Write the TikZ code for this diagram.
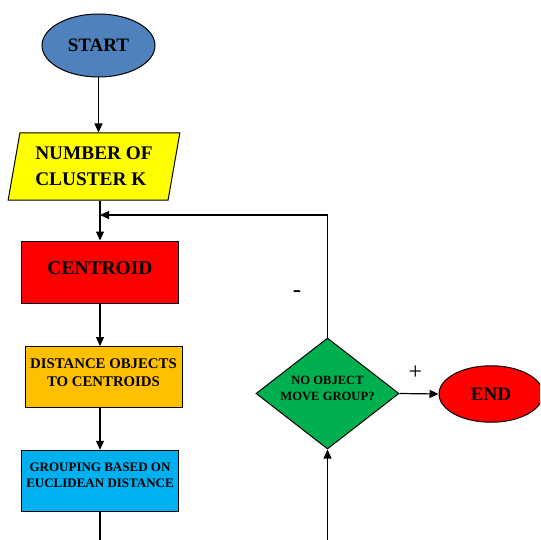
\documentclass[tikz,border=0pt]{standalone}
\usepackage{fontspec}
\setmainfont{Liberation Serif}
\usepackage{tikz}
\usetikzlibrary{shapes.geometric,arrows.meta}
\definecolor{startblue}{HTML}{4F81BD}
\definecolor{inputyellow}{HTML}{FFFF00}
\definecolor{centred}{HTML}{FF0000}
\definecolor{distorange}{HTML}{FFC000}
\definecolor{groupcyan}{HTML}{00B0F0}
\definecolor{decgreen}{HTML}{00B050}

\begin{document}
\begin{tikzpicture}[
    x=1pt, y=-1pt,
    >={Triangle[length=9pt, width=8pt]},
    box/.style={
        draw=black,
        line width=1pt,
        rectangle,
        inner sep=0pt,
        align=center
    },
    link/.style={line width=1.2pt, black}
]

    \useasboundingbox (0,0) rectangle (540,540);
    \clip (0,0) rectangle (540,540);

    % Inici
    \node[
        draw=black, line width=1pt,
        ellipse, fill=startblue,
        minimum width=113pt, minimum height=63pt, inner sep=0pt,
        font=\bfseries\fontsize{19}{22}\selectfont
    ] (start) at (98.5,45.5) {START};

    % Dades
    \node[
        draw=black, line width=1pt,
        trapezium, trapezium left angle=76.6, trapezium right angle=103.4,
        trapezium stretches=true,
        fill=inputyellow,
        minimum width=172pt, minimum height=67pt, inner sep=0pt,
        align=left,
        font=\bfseries\fontsize{19.3}{26}\selectfont
    ] (numk) at (94,166.5) {NUMBER OF\\CLUSTER K};

    % Passos
    \node[
        box, fill=centred,
        minimum width=157pt, minimum height=62pt,
        text depth=8pt,
        font=\bfseries\fontsize{19.5}{22}\selectfont
    ] (cent) at (100,272) {CENTROID};

    \node[
        box, fill=distorange,
        minimum width=157pt, minimum height=61pt,
        text depth=9pt,
        font=\bfseries\fontsize{14.8}{18.7}\selectfont
    ] (dist) at (103.5,377) {DISTANCE OBJECTS\\TO CENTROIDS};

    \node[
        box, fill=groupcyan,
        minimum width=156.5pt, minimum height=61.5pt,
        text depth=12pt,
        font=\bfseries\fontsize{13}{16}\selectfont
    ] (group) at (100,481) {GROUPING BASED ON\\EUCLIDEAN DISTANCE};

    % Decisio
    \node[
        draw=black, line width=1pt,
        diamond, aspect=1.29, fill=decgreen,
        minimum width=143pt, minimum height=111pt, inner sep=0pt,
        align=center, text depth=10pt,
        font=\bfseries\fontsize{12.6}{15.7}\selectfont
    ] (dec) at (327.5,393.5) {NO OBJECT\\MOVE GROUP?};

    % Final
    \node[
        draw=black, line width=1pt,
        ellipse, fill=centred,
        minimum width=104pt, minimum height=56.5pt, inner sep=0pt,
        font=\bfseries\fontsize{19}{22}\selectfont
    ] (end) at (491,394) {END};

    % Signes
    \node[font=\fontsize{25}{28}\selectfont] (minus) at (297,294) {-};
    \node[font=\fontsize{24}{28}\selectfont] (plus) at (415.5,373) {+};

    \coordinate (join) at (100,215);
    \coordinate (bot1) at (100,545);
    \coordinate (bot2) at (327.5,545);

    % Fletxes
    \draw[link, ->] (start.south) -- (start.south |- numk.north);
    \draw[link, ->] (cent.north |- numk.south) -- (cent.north);
    \draw[link, ->] (cent.south) -- (cent.south |- dist.north);
    \draw[link, ->] (cent.south |- dist.south) -- (group.north);
    \draw[link] (group.south) -- (bot1);
    \draw[link, ->] (bot2) -- (dec.south);
    \draw[link, ->] (dec.east) -- (end.west);
    \draw[link, ->] (dec.north) |- (join);

\end{tikzpicture}
\end{document}
